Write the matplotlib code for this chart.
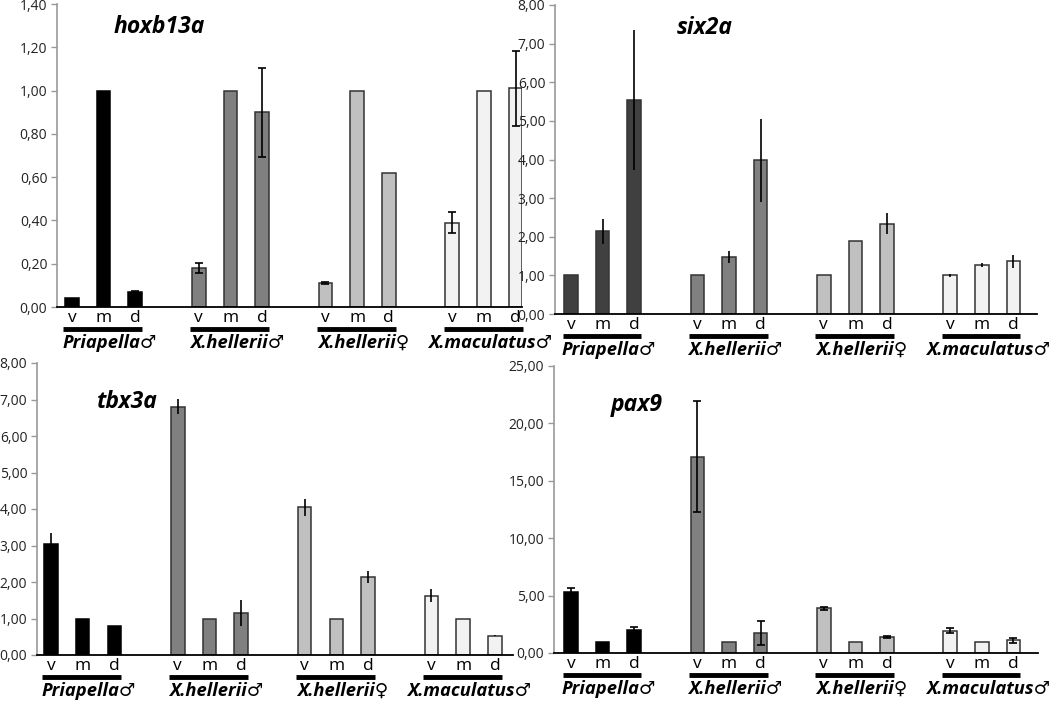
import matplotlib
matplotlib.use('Agg')
import matplotlib.pyplot as plt
import matplotlib.transforms as mtransforms
from matplotlib.ticker import FuncFormatter
import numpy as np

# categories
groups = ['Priapella♂', 'X.hellerii♂', 'X.hellerii♀', 'X.maculatus♂']
parts = ['v', 'm', 'd']

# values per gene (v, m, d for each group)
hox_vals = [0.04, 1.00, 0.07, 0.18, 1.00, 0.90, 0.11, 1.00, 0.62, 0.39, 1.00, 1.01]
hox_err = [0, 0, 0.005, 0.025, 0, 0.205, 0.004, 0, 0, 0.05, 0, 0.175]
six_vals = [1.00, 2.14, 5.54, 1.00, 1.47, 3.98, 1.00, 1.89, 2.34, 1.00, 1.26, 1.36]
six_err = [0, 0.32, 1.80, 0, 0.16, 1.07, 0, 0, 0.28, 0.04, 0.05, 0.17]
tbx_vals = [3.03, 1.00, 0.79, 6.80, 1.00, 1.15, 4.05, 1.00, 2.13, 1.62, 1.00, 0.53]
tbx_err = [0.32, 0, 0, 0.21, 0, 0.36, 0.23, 0, 0.16, 0.18, 0, 0.02]
pax_vals = [5.34, 1.00, 2.02, 17.1, 1.00, 1.75, 3.89, 1.00, 1.37, 1.95, 1.00, 1.10]
pax_err = [0.30, 0, 0.28, 4.85, 0, 1.05, 0.15, 0, 0.08, 0.22, 0, 0.22]

W, H = 1050, 706
fig = plt.figure(figsize=(W / 100, H / 100), dpi=100)

TXT = ['Open Sans', 'DejaVu Sans']


def make_panel(box, xlim, ymax, ystep, vals, errs, colors, title, tpos, caps):
    l, r, t, b = box
    ax = fig.add_axes([l / W, 1 - b / H, (r - l) / W, (b - t) / H])
    xs = []
    cols = []
    for g in range(4):
        for k in range(3):
            xs.append(g * 4 + k)
            cols.append(colors[g])
    xs = np.array(xs)
    edges = ['black' if c == '#000000' else '#333333' for c in cols]
    ax.bar(xs, vals, width=0.43, color=cols, edgecolor=edges, linewidth=1.1, zorder=2)
    ev = np.array(errs)
    mask = ev > 0
    ax.errorbar(xs[mask], np.array(vals)[mask], yerr=ev[mask], fmt='none',
                ecolor='black', elinewidth=1.2, capsize=3 if caps else 0,
                capthick=1.2, zorder=3)
    ax.set_xlim(*xlim)
    ax.set_ylim(0, ymax)
    ax.set_yticks(np.arange(0, ymax + ystep / 2, ystep))
    ax.yaxis.set_major_formatter(FuncFormatter(lambda v, p: f'{v:.2f}'.replace('.', ',')))
    ax.set_xticks(xs)
    ax.set_xticklabels(parts * 4, fontsize=12.5, family=TXT)
    ax.tick_params(axis='x', length=0, pad=2)
    ax.tick_params(axis='y', length=4, color='#999999', width=1, labelsize=10, pad=3)
    for lab in ax.get_yticklabels():
        lab.set_family(TXT)
        lab.set_color('#222222')
    for s in ['top', 'right']:
        ax.spines[s].set_visible(False)
    ax.spines['left'].set_color('#999999')
    ax.spines['left'].set_linewidth(1.2)
    ax.spines['bottom'].set_color('black')
    ax.spines['bottom'].set_linewidth(1.3)
    ax.patch.set_alpha(0)

    base = mtransforms.blended_transform_factory(ax.transData, ax.transAxes)
    line_tr = base + mtransforms.ScaledTranslation(0, -22 / 100, fig.dpi_scale_trans)
    text_tr = base + mtransforms.ScaledTranslation(0, -36 / 100, fig.dpi_scale_trans)
    for g, name in enumerate(groups):
        x0 = g * 4
        ax.plot([x0 - 0.27, x0 + 2.22], [0, 0], transform=line_tr, color='black',
                lw=3.5, solid_capstyle='butt', clip_on=False)
        ax.text(x0 + 1.2, 0, name, transform=text_tr, ha='center', va='center',
                fontsize=13.2, fontweight='bold', fontstyle='italic', family=TXT,
                clip_on=False)
    ax.text(tpos[0], tpos[1], title, transform=ax.transAxes, ha='center', va='center',
            fontsize=16.5, fontweight='bold', fontstyle='italic', family=TXT)
    return ax


main_cols = ['#000000', '#808080', '#c0c0c0', '#f2f2f2']
six_cols = ['#404040', '#808080', '#c0c0c0', '#f2f2f2']

make_panel((57, 522, 4, 307), (-0.47, 14.2), 1.4, 0.2, hox_vals, hox_err,
           main_cols, 'hoxb13a', (0.22, 0.924), True)
make_panel((555, 1037, 5, 314), (-0.51, 14.75), 8, 1, six_vals, six_err,
           six_cols, 'six2a', (0.31, 0.926), False)
make_panel((37, 513, 363, 655), (-0.44, 14.57), 8, 1, tbx_vals, tbx_err,
           main_cols, 'tbx3a', (0.19, 0.866), False)
make_panel((554, 1038, 366, 653), (-0.54, 14.78), 25, 5, pax_vals, pax_err,
           main_cols, 'pax9', (0.17, 0.864), True)

fig.savefig('out.png', dpi=100)
